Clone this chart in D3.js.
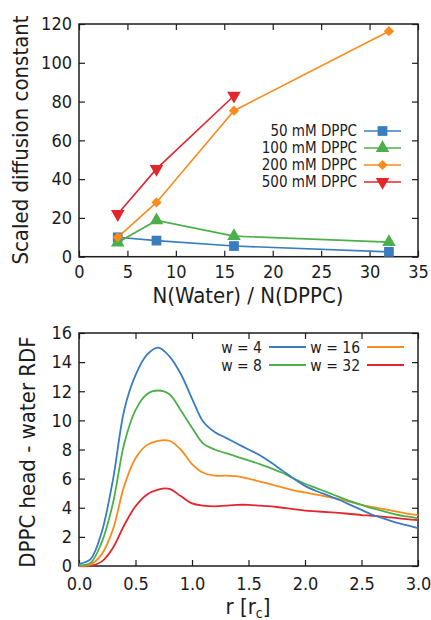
<!DOCTYPE html>
<html>
<head>
<meta charset="utf-8">
<script src="https://cdn.jsdelivr.net/npm/d3@7"></script>
<style>
  body { margin: 0; background: #fff; }
</style>
</head>
<body>
<div id="chart"></div>
<script>
// ---- top panel: scaled diffusion constant ----
const nRatio = [4, 8, 16, 32];
const diff50 = [10.0, 8.3, 5.5, 2.5];
const diff100 = [7.3, 18.7, 10.6, 7.5];
const diff200 = [10.0, 28.0, 75.3, 116.3];
const diff500 = [22.0, 45.3, 83.0];
const concLabels = ["50 mM DPPC", "100 mM DPPC", "200 mM DPPC", "500 mM DPPC"];
const xTicksTop = [0, 5, 10, 15, 20, 25, 30, 35];
const yTicksTop = [0, 20, 40, 60, 80, 100, 120];

// ---- bottom panel: DPPC head - water RDF ----
const rValues = [0.0, 0.1, 0.2, 0.3, 0.4, 0.5, 0.6, 0.7, 0.8, 0.9, 1.0,
  1.1, 1.2, 1.3, 1.4, 1.5, 1.6, 1.7, 1.8, 1.9, 2.0,
  2.1, 2.2, 2.3, 2.4, 2.5, 2.6, 2.7, 2.8, 2.9, 3.0];
const rdfW4 = [0.15, 0.45, 2.3, 5.9, 10.7, 13.1, 14.5, 15.0, 14.4, 13.2, 11.5,
  9.9, 9.2, 8.8, 8.4, 8.0, 7.6, 7.1, 6.55, 6.0, 5.5,
  5.15, 4.85, 4.55, 4.2, 3.85, 3.5, 3.25, 3.0, 2.8, 2.6];
const rdfW8 = [0.05, 0.2, 1.6, 4.3, 8.4, 10.7, 11.8, 12.05, 11.8, 10.7, 9.5,
  8.4, 8.0, 7.75, 7.5, 7.25, 7.0, 6.7, 6.4, 6.0, 5.65,
  5.35, 5.05, 4.75, 4.45, 4.2, 3.95, 3.75, 3.55, 3.4, 3.27];
const rdfW16 = [0.0, 0.1, 0.8, 2.5, 5.5, 7.4, 8.3, 8.6, 8.6, 8.0, 7.0,
  6.4, 6.2, 6.2, 6.15, 6.0, 5.8, 5.6, 5.4, 5.2, 5.05,
  4.9, 4.75, 4.6, 4.4, 4.2, 4.05, 3.9, 3.75, 3.6, 3.5];
const rdfW32 = [0.0, 0.02, 0.3, 1.24, 2.8, 4.1, 4.9, 5.25, 5.3, 4.8, 4.3,
  4.15, 4.1, 4.15, 4.2, 4.2, 4.15, 4.1, 4.0, 3.9, 3.8,
  3.75, 3.7, 3.65, 3.57, 3.5, 3.45, 3.37, 3.3, 3.22, 3.15];
const rdfLabels = ["w = 4", "w = 8", "w = 16", "w = 32"];
const xTicksBot = [0, 0.5, 1.0, 1.5, 2.0, 2.5, 3.0];
const yTicksBot = [0, 2, 4, 6, 8, 10, 12, 14, 16];

const colors = ["#3a7cc0", "#4cb04a", "#fb8c1c", "#e3262c"];
const font = '"DejaVu Sans Condensed", "DejaVu Sans", sans-serif';
const ink = "#1c1c1c";

const svg = d3.select("#chart").append("svg")
  .attr("width", 431)
  .attr("height", 620)
  .style("font-family", font);

// draws frame, inward ticks on all four sides and tick labels
function drawFrame(x, y, xTicks, yTicks, xFmt, yFmt, xPad) {
  const [x0, x1] = x.range();
  const [y0, y1] = y.range();
  const g = svg.append("g");

  g.append("g").attr("transform", `translate(0,${y0})`)
    .call(d3.axisBottom(x).tickValues(xTicks).tickFormat(xFmt)
      .tickSize(-6).tickPadding(xPad));
  g.append("g").attr("transform", `translate(${x0},0)`)
    .call(d3.axisLeft(y).tickValues(yTicks).tickFormat(yFmt)
      .tickSize(-6).tickPadding(7));
  g.append("g").attr("transform", `translate(0,${y1})`)
    .call(d3.axisTop(x).tickValues(xTicks).tickFormat("").tickSize(-6));
  g.append("g").attr("transform", `translate(${x1},0)`)
    .call(d3.axisRight(y).tickValues(yTicks).tickFormat("").tickSize(-6));

  g.selectAll(".domain").remove();
  g.selectAll(".tick line").attr("stroke", ink).attr("stroke-width", 1.2);
  g.selectAll(".tick text")
    .attr("fill", ink)
    .style("font-family", font)
    .style("font-size", "18px");

  g.append("rect")
    .attr("x", x0).attr("y", y1)
    .attr("width", x1 - x0).attr("height", y0 - y1)
    .attr("fill", "none")
    .attr("stroke", ink)
    .attr("stroke-width", 1.5);
  return g;
}

// ================= top panel =================
const xTop = d3.scaleLinear().domain([0, 35]).range([79, 418]);
const yTop = d3.scaleLinear().domain([0, 120]).range([256.7, 24]);

drawFrame(xTop, yTop, xTicksTop, yTicksTop, d3.format("d"), d3.format("d"), 9);

const diffSeries = [diff50, diff100, diff200, diff500];
const symbols = [
  { type: d3.symbolSquare, size: 95, rot: 0 },
  { type: d3.symbolTriangle, size: 80, rot: 0 },
  { type: d3.symbolSquare, size: 52, rot: 45 },
  { type: d3.symbolTriangle, size: 80, rot: 180 }
];

const lineTop = d3.line()
  .x((d) => xTop(d[0]))
  .y((d) => yTop(d[1]));

diffSeries.forEach((vals, i) => {
  const pts = vals.map((v, j) => [nRatio[j], v]);
  svg.append("path")
    .datum(pts)
    .attr("fill", "none")
    .attr("stroke", colors[i])
    .attr("stroke-width", 1.6)
    .attr("d", lineTop);
  svg.append("g").selectAll("path")
    .data(pts)
    .join("path")
    .attr("d", d3.symbol().type(symbols[i].type).size(symbols[i].size))
    .attr("transform", (d) => `translate(${xTop(d[0])},${yTop(d[1])}) rotate(${symbols[i].rot})`)
    .attr("fill", colors[i]);
});

// legend (top)
const legTop = svg.append("g");
concLabels.forEach((lab, i) => {
  const cy = 131 + i * 17;
  legTop.append("text")
    .attr("x", 357).attr("y", cy).attr("dy", "0.36em")
    .attr("text-anchor", "end")
    .attr("fill", ink)
    .style("font-size", "15px")
    .text(lab);
  legTop.append("line")
    .attr("x1", 364).attr("x2", 401)
    .attr("y1", cy).attr("y2", cy)
    .attr("stroke", colors[i]).attr("stroke-width", 1.6);
  legTop.append("path")
    .attr("d", d3.symbol().type(symbols[i].type).size(symbols[i].size))
    .attr("transform", `translate(382.5,${cy}) rotate(${symbols[i].rot})`)
    .attr("fill", colors[i]);
});

// axis titles (top)
svg.append("text")
  .attr("x", 248).attr("y", 303)
  .attr("text-anchor", "middle")
  .attr("fill", ink)
  .style("font-size", "22px")
  .text("N(Water) / N(DPPC)");

svg.append("text")
  .attr("transform", "translate(28,140) rotate(-90)")
  .attr("text-anchor", "middle")
  .attr("fill", ink)
  .style("font-size", "22px")
  .text("Scaled diffusion constant");

// ================= bottom panel =================
const xBot = d3.scaleLinear().domain([0, 3]).range([79, 418]);
const yBot = d3.scaleLinear().domain([0, 16]).range([566, 333]);

drawFrame(xBot, yBot, xTicksBot, yTicksBot, d3.format(".1f"), d3.format("d"), 11);

const rdfSeries = [rdfW4, rdfW8, rdfW16, rdfW32];
const lineBot = d3.line()
  .x((d) => xBot(d[0]))
  .y((d) => yBot(Math.max(0, d[1])))
  .curve(d3.curveCatmullRom.alpha(0.5));

// draw w=32 first so w=4 sits on top
[3, 2, 1, 0].forEach((i) => {
  const pts = rdfSeries[i].map((v, j) => [rValues[j], v]);
  svg.append("path")
    .datum(pts)
    .attr("fill", "none")
    .attr("stroke", colors[i])
    .attr("stroke-width", 1.8)
    .attr("d", lineBot);
});

// legend (bottom), two columns
const legBot = svg.append("g");
rdfLabels.forEach((lab, i) => {
  const col = Math.floor(i / 2);
  const row = i % 2;
  const cy = 347 + row * 18;
  const tx = col === 0 ? 262 : 360;
  legBot.append("text")
    .attr("x", tx).attr("y", cy).attr("dy", "0.36em")
    .attr("text-anchor", "end")
    .attr("fill", ink)
    .style("font-size", "15.5px")
    .text(lab);
  legBot.append("line")
    .attr("x1", tx + 7).attr("x2", tx + 44)
    .attr("y1", cy).attr("y2", cy)
    .attr("stroke", colors[i]).attr("stroke-width", 1.8);
});

// axis titles (bottom)
const rTitle = svg.append("text")
  .attr("x", 248).attr("y", 614)
  .attr("text-anchor", "middle")
  .attr("fill", ink)
  .style("font-size", "22px");
rTitle.append("tspan").text("r [r");
rTitle.append("tspan").attr("dy", 4).style("font-size", "14px").text("c");
rTitle.append("tspan").attr("dy", -4).text("]");

svg.append("text")
  .attr("transform", "translate(35,452) rotate(-90)")
  .attr("text-anchor", "middle")
  .attr("fill", ink)
  .style("font-size", "22px")
  .text("DPPC head - water RDF");
</script>
</body>
</html>
